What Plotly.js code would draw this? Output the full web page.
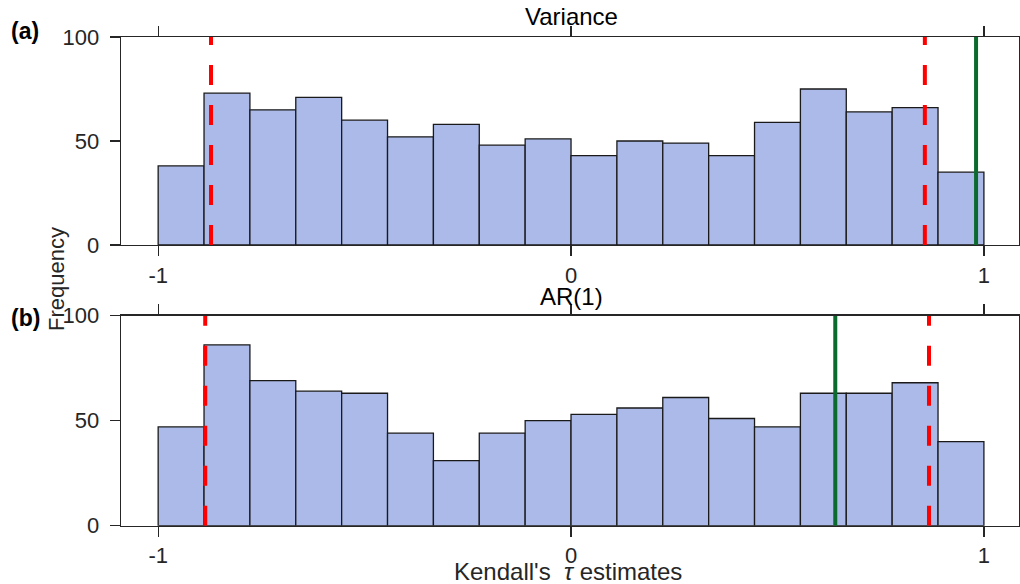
<!DOCTYPE html>
<html><head><meta charset="utf-8">
<script src="https://cdn.plot.ly/plotly-3.0.1.min.js"></script>
<style>html,body{margin:0;padding:0;background:#fff}#c{width:1020px;height:584px}</style>
</head><body><div id="c"></div>
<script>
// Histogram bins: 18 bins from -1 to 1
const binStart = -1;
const binWidth = 2 / 18;
const varianceCounts = [38, 73, 65, 71, 60, 52, 58, 48, 51, 43, 50, 49, 43, 59, 75, 64, 66, 35];
const ar1Counts      = [47, 86, 69, 64, 63, 44, 31, 44, 50, 53, 56, 61, 51, 47, 63, 63, 68, 40];
// Reference lines (Kendall's tau)
const varianceRed = [-0.872, 0.857];
const varianceGreen = 0.981;
const ar1Red = [-0.886, 0.867];
const ar1Green = 0.640;
const xTicks = [-1, 0, 1];
const yTicks = [0, 50, 100];
const panelTitles = ["Variance", "AR(1)"];
const panelLabels = ["(a)", "(b)"];

const centers = varianceCounts.map((_, i) => binStart + (i + 0.5) * binWidth);
const FONT = "Liberation Sans, Arial, Helvetica, sans-serif";
const TXT = "#262626";

function barTrace(counts, xa, ya) {
  return {type: "bar", x: centers, y: counts, width: binWidth, xaxis: xa, yaxis: ya,
    marker: {color: "#abbae8", line: {color: "#1a1a1a", width: 1.3}}, showlegend: false, hoverinfo: "x+y"};
}
function vline(v, color, dash, xa, ya) {
  return {type: "scatter", mode: "lines", x: [v, v], y: [0, 100], xaxis: xa, yaxis: ya,
    line: {color: color, width: 4, dash: dash}, showlegend: false, hoverinfo: "skip"};
}

const traces = [
  barTrace(varianceCounts, "x", "y"),
  ...varianceRed.map(v => vline(v, "#ff0000", "20px,20px", "x", "y")),
  vline(varianceGreen, "#0b6b2e", "solid", "x", "y"),
  barTrace(ar1Counts, "x2", "y2"),
  ...ar1Red.map(v => vline(v, "#ff0000", "20px,20px", "x2", "y2")),
  vline(ar1Green, "#0b6b2e", "solid", "x2", "y2"),
];

const xRange = [-1.09, 1.085];
function xaxis(anchor, dom) {
  return {domain: dom, anchor: anchor, range: xRange, tickvals: xTicks, ticktext: xTicks.map(String),
    ticks: "outside", ticklen: 10, tickwidth: 1.3, tickcolor: "#262626",
    showline: true, linecolor: "#262626", linewidth: 1.3, mirror: "ticks", zeroline: false, showgrid: false,
    tickfont: {family: FONT, size: 22, color: TXT}};
}
function yaxis(anchor, dom) {
  return {domain: dom, anchor: anchor, range: [0, 100], tickvals: yTicks, ticktext: yTicks.map(String),
    ticks: "outside", ticklen: 10, tickwidth: 1.3, tickcolor: "#262626", ticklabelstandoff: 6,
    showline: true, linecolor: "#262626", linewidth: 1.3, mirror: true, zeroline: false, showgrid: false,
    tickfont: {family: FONT, size: 22, color: TXT}};
}

function ann(text, x, y, size, color, extra) {
  return Object.assign({text: text, xref: "paper", yref: "paper", x: x / 1020, y: 1 - y / 584,
    xanchor: "center", yanchor: "middle", showarrow: false,
    font: {family: FONT, size: size, color: color}}, extra || {});
}

const xd = [121/1020, 1019/1020];
const layout = {
  width: 1020, height: 584, margin: {l: 0, r: 0, t: 0, b: 0},
  paper_bgcolor: "#fff", plot_bgcolor: "#fff", bargap: 0, showlegend: false,
  xaxis: xaxis("y", xd), yaxis: yaxis("x", [1 - 245/584, 1 - 37/584]),
  xaxis2: xaxis("y2", xd), yaxis2: yaxis("x2", [1 - 525.7/584, 1 - 315.5/584]),
  annotations: [
    ann(panelTitles[0], 571, 17, 24, "#000"),
    ann(panelTitles[1], 571, 296, 24, "#000"),
    ann("<b>" + panelLabels[0] + "</b>", 25, 31, 23, "#000"),
    ann("<b>" + panelLabels[1] + "</b>", 25, 318, 23, "#000"),
    ann("Frequency", 56, 279, 22, TXT, {textangle: -90}),
    ann("Kendall's  <i>τ</i> estimates", 568, 571, 24, TXT),
  ],
};
Plotly.newPlot("c", traces, layout, {staticPlot: true});
</script></body></html>
